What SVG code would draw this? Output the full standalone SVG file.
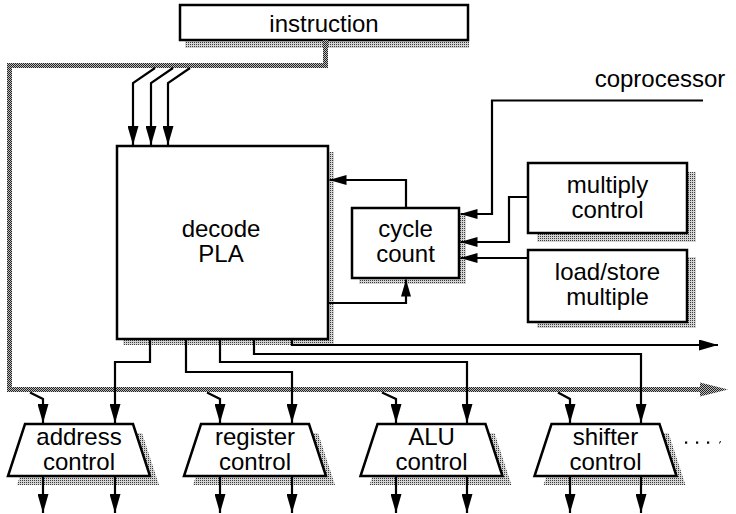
<svg xmlns="http://www.w3.org/2000/svg" width="736" height="514" viewBox="0 0 736 514">
<defs>
<pattern id="shade" width="2" height="2" patternUnits="userSpaceOnUse"><rect width="2" height="2" fill="#d4d4d4"/><rect width="1" height="1" fill="#3a3a3a"/></pattern>
<pattern id="bus" width="2" height="2" patternUnits="userSpaceOnUse"><rect width="2" height="2" fill="#bdbdbd"/><rect width="1" height="1" fill="#222"/><rect x="1" y="1" width="1" height="1" fill="#222"/></pattern>
<marker id="ah" markerWidth="19" markerHeight="11" refX="19" refY="5.5" orient="auto" markerUnits="userSpaceOnUse"><path d="M0,0 L19,5.5 L0,11 z" fill="#000"/></marker>
<marker id="ahs" markerWidth="17" markerHeight="10" refX="17" refY="5" orient="auto" markerUnits="userSpaceOnUse"><path d="M0,0 L17,5 L0,10 z" fill="#000"/></marker>
</defs>
<style>
.box{fill:#fff;stroke:#000;stroke-width:2.5}
.sh{fill:url(#shade)}
.lbl{font-family:"Liberation Sans",Arial,sans-serif;font-size:24px;fill:#000;text-anchor:middle}
.ln{fill:none;stroke:#000;stroke-width:2.2}
</style>
<rect width="736" height="514" fill="#fff"/>

<g id="instruction">
<rect class="sh" x="185" y="40" width="284" height="8"/>
<rect class="box" x="180" y="5" width="288" height="35"/>
<text class="lbl" x="324" y="32">instruction</text>
</g>

<g id="decode-pla">
<rect class="sh" x="123" y="152" width="211" height="193"/>
<rect class="box" x="117" y="146" width="211" height="193"/>
<text class="lbl" x="221" y="237">decode</text>
<text class="lbl" x="221" y="262">PLA</text>
</g>

<g id="cycle-count">
<rect class="sh" x="359" y="215" width="107" height="69"/>
<rect class="box" x="352" y="208" width="107" height="70"/>
<text class="lbl" x="405.5" y="237">cycle</text>
<text class="lbl" x="405.5" y="262">count</text>
</g>

<g id="multiply-control">
<rect class="sh" x="537" y="172" width="159" height="70"/>
<rect class="box" x="528" y="163" width="159" height="70"/>
<text class="lbl" x="607.5" y="193">multiply</text>
<text class="lbl" x="607.5" y="218">control</text>
</g>

<g id="load-store-multiple">
<rect class="sh" x="537" y="257" width="159" height="71"/>
<rect class="box" x="528" y="250" width="159" height="72"/>
<text class="lbl" x="607.5" y="280">load/store</text>
<text class="lbl" x="607.5" y="305">multiple</text>
</g>

<g id="coprocessor">
<text class="lbl" x="660" y="87">coprocessor</text>
</g>

<g id="address-control">
<polygon class="sh" points="34,433 142,433 159,485 17,485"/>
<polygon class="box" points="25,424 133,424 150,476 8,476"/>
<text class="lbl" x="79" y="445">address</text>
<text class="lbl" x="79" y="470">control</text>
</g>

<g id="register-control">
<polygon class="sh" points="210,433 318,433 335,485 193,485"/>
<polygon class="box" points="201,424 309,424 326,476 184,476"/>
<text class="lbl" x="255" y="445">register</text>
<text class="lbl" x="255" y="470">control</text>
</g>

<g id="alu-control">
<polygon class="sh" points="386.5,433 494.5,433 511.5,485 369.5,485"/>
<polygon class="box" points="377.5,424 485.5,424 502.5,476 360.5,476"/>
<text class="lbl" x="431.5" y="445">ALU</text>
<text class="lbl" x="431.5" y="470">control</text>
</g>

<g id="shifter-control">
<polygon class="sh" points="560.5,433 668.5,433 685.5,485 543.5,485"/>
<polygon class="box" points="551.5,424 659.5,424 676.5,476 534.5,476"/>
<text class="lbl" x="605.5" y="445">shifter</text>
<text class="lbl" x="605.5" y="470">control</text>
</g>

<g id="more">
<rect x="685" y="441.5" width="2.2" height="2.2" fill="#000"/>
<rect x="696" y="441.5" width="2.2" height="2.2" fill="#000"/>
<rect x="707" y="441.5" width="2.2" height="2.2" fill="#000"/>
<path d="M720.5,441 L719.5,443.5" stroke="#000" stroke-width="1"/>
</g>

<g id="connectors">
<path d="M325.5,40 V65.5 H9.5 V389.5 H701" fill="none" stroke="url(#bus)" stroke-width="5"/>
<polygon points="700,382.5 728,389.5 700,396.5" fill="url(#bus)"/>

<path class="ln" d="M155,68 L133,83 V145" marker-end="url(#ah)"/>
<path class="ln" d="M173,68 L151,83 V145" marker-end="url(#ah)"/>
<path class="ln" d="M190,68 L168,83 V145" marker-end="url(#ah)"/>

<path class="ln" d="M406,208 V180 H329.5" marker-end="url(#ahs)"/>
<path class="ln" d="M328,303 H406 V279.5" marker-end="url(#ahs)"/>
<path class="ln" d="M703,100.5 H492 V214 H460.5" marker-end="url(#ahs)"/>
<path class="ln" d="M528,197 H509 V242 H460.5" marker-end="url(#ahs)"/>
<path class="ln" d="M528,258 H460.5" marker-end="url(#ahs)"/>

<path class="ln" d="M150,339 V362 H115 V423" marker-end="url(#ah)"/>
<path class="ln" d="M186,339 V372 H292 V423" marker-end="url(#ah)"/>
<path class="ln" d="M220,339 V362 H467 V423" marker-end="url(#ah)"/>
<path class="ln" d="M254,339 V354 H641 V423" marker-end="url(#ah)"/>
<path class="ln" d="M292,339 V345 H718" marker-end="url(#ah)"/>

<path class="ln" d="M30,392.5 L43,399 V423" marker-end="url(#ah)"/>
<path class="ln" d="M207,392.5 L220,399 V423" marker-end="url(#ah)"/>
<path class="ln" d="M382,392.5 L396,399 V423" marker-end="url(#ah)"/>
<path class="ln" d="M558,392.5 L570,399 V423" marker-end="url(#ah)"/>

<path class="ln" d="M43,476 V513" marker-end="url(#ah)"/>
<path class="ln" d="M115,476 V513" marker-end="url(#ah)"/>
<path class="ln" d="M220,476 V513" marker-end="url(#ah)"/>
<path class="ln" d="M292,476 V513" marker-end="url(#ah)"/>
<path class="ln" d="M396,476 V513" marker-end="url(#ah)"/>
<path class="ln" d="M467,476 V513" marker-end="url(#ah)"/>
<path class="ln" d="M570,476 V513" marker-end="url(#ah)"/>
<path class="ln" d="M641,476 V513" marker-end="url(#ah)"/>
</g>
</svg>
